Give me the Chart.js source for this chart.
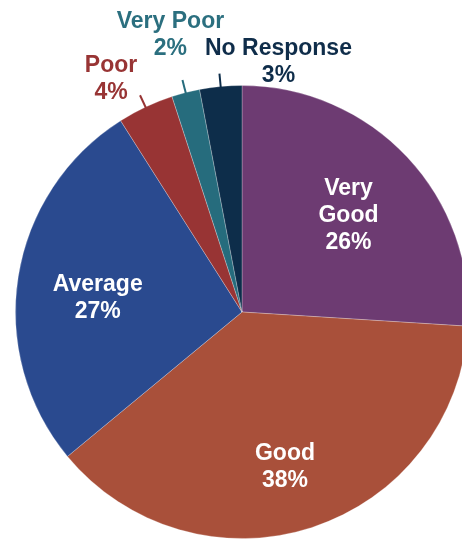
<!DOCTYPE html>
<html>
<head>
<meta charset="utf-8">
<script src="https://cdn.jsdelivr.net/npm/chart.js@4.4.1/dist/chart.umd.min.js"></script>
<style>
  html, body { margin: 0; padding: 0; background: #fff; overflow: hidden; width: 462px; height: 539px; }
  #wrap { position: absolute; left: 0; top: 0; width: 484px; height: 624px; }
</style>
</head>
<body>
<div id="wrap"><canvas id="pieChart"></canvas></div>
<script>
const categories = ['Very Good', 'Good', 'Average', 'Poor', 'Very Poor', 'No Response'];
const shares = [26, 38, 27, 4, 2, 3];
const labelLines = [['Very', 'Good'], ['Good'], ['Average'], ['Poor'], ['Very Poor'], ['No Response']];

const sliceColors = ['#6d3b72', '#a9503a', '#2a4a8f', '#983434', '#266c7d', '#0d2d4a'];
const textColors = ['#ffffff', '#ffffff', '#ffffff', '#983434', '#2b6f7f', '#0f2d4a'];

// inside labels: fraction of radius + small nudge; outside labels: leader line + text offset
const insideRadius = [0.645, 0.70, 0.645];
const insideNudge = [[0, 2], [-6, 3], [0, 7]];
const outsideOffset = { 3: [-29, -18], 4: [-12, -47], 5: [59, -13] };

const labelPlugin = {
  id: 'sliceLabels',
  afterDatasetsDraw(chart) {
    const ctx = chart.ctx;
    const meta = chart.getDatasetMeta(0);
    ctx.save();
    ctx.font = 'bold 23px "Liberation Sans", Arial, sans-serif';
    ctx.textAlign = 'center';
    ctx.textBaseline = 'alphabetic';
    meta.data.forEach((arc, i) => {
      const mid = (arc.startAngle + arc.endAngle) / 2;
      const lines = labelLines[i].concat([shares[i] + '%']);
      let cx, cy;
      if (i < 3) {
        const r = arc.outerRadius * insideRadius[i];
        cx = arc.x + Math.cos(mid) * r + insideNudge[i][0];
        cy = arc.y + Math.sin(mid) * r + insideNudge[i][1];
      } else {
        const r0 = arc.outerRadius - 1;
        const r1 = arc.outerRadius + 13;
        const x1 = arc.x + Math.cos(mid) * r1;
        const y1 = arc.y + Math.sin(mid) * r1;
        ctx.strokeStyle = sliceColors[i];
        ctx.lineWidth = 2;
        ctx.beginPath();
        ctx.moveTo(arc.x + Math.cos(mid) * r0, arc.y + Math.sin(mid) * r0);
        ctx.lineTo(x1, y1);
        ctx.stroke();
        cx = x1 + outsideOffset[i][0];
        cy = y1 + outsideOffset[i][1];
      }
      ctx.fillStyle = textColors[i];
      const lh = 27;
      const top = cy - (lines.length - 1) * lh / 2;
      lines.forEach((t, k) => ctx.fillText(t, cx, top + k * lh + 8));
    });
    ctx.restore();
  }
};

new Chart(document.getElementById('pieChart'), {
  type: 'pie',
  data: {
    labels: categories,
    datasets: [{
      data: shares,
      backgroundColor: sliceColors,
      borderColor: 'rgba(255,255,255,0.25)',
      borderWidth: 1
    }]
  },
  options: {
    responsive: true,
    maintainAspectRatio: false,
    animation: false,
    layout: { padding: { left: 15, right: 15, top: 0, bottom: 0 } },
    plugins: { legend: { display: false }, tooltip: { enabled: false } }
  },
  plugins: [labelPlugin]
});
</script>
</body>
</html>
